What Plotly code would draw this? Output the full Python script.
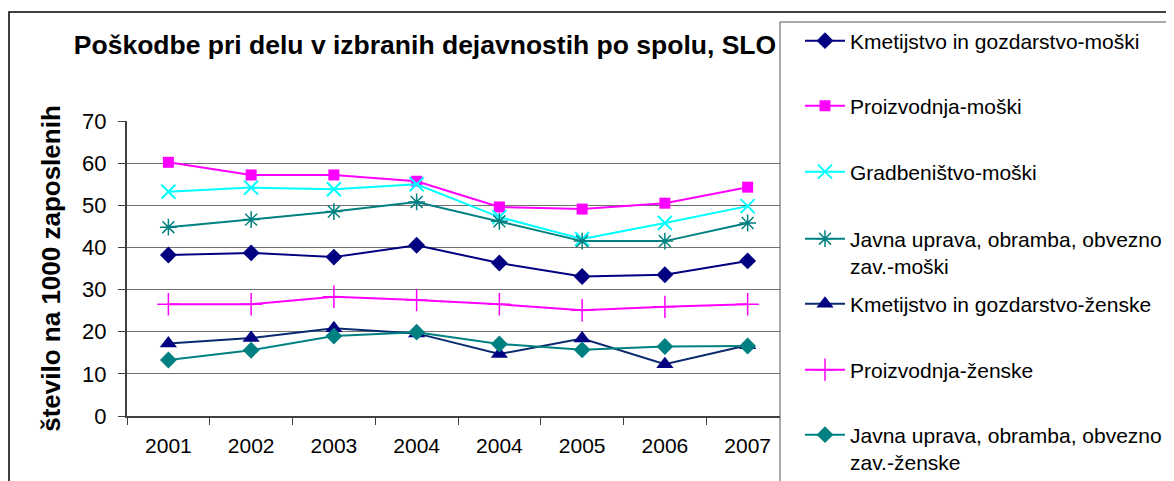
import plotly.graph_objects as go

years = ["2001", "2002", "2003", "2004", "2004", "2005", "2006", "2007"]

kmet_m = [38.2, 38.7, 37.7, 40.5, 36.3, 33.1, 33.5, 36.8]
proiz_m = [60.2, 57.2, 57.2, 55.7, 49.6, 49.1, 50.5, 54.3]
gradb_m = [53.2, 54.2, 53.8, 55.0, 47.2, 42.0, 45.8, 49.8]
javna_m = [44.8, 46.6, 48.5, 50.8, 46.2, 41.5, 41.5, 45.8]
kmet_z = [17.2, 18.5, 20.8, 19.6, 14.7, 18.4, 12.3, 16.8]
proiz_z = [26.5, 26.5, 28.3, 27.5, 26.5, 25.1, 25.9, 26.5]
javna_z = [13.3, 15.6, 19.0, 19.9, 17.1, 15.7, 16.5, 16.6]

names = [
    "Kmetijstvo in gozdarstvo-moški",
    "Proizvodnja-moški",
    "Gradbeništvo-moški",
    "Javna uprava, obramba, obvezno<br>zav.-moški",
    "Kmetijstvo in gozdarstvo-ženske",
    "Proizvodnja-ženske",
    "Javna uprava, obramba, obvezno<br>zav.-ženske",
]

# page body has an 8px margin; positions below are given in screen px
OFF = 8
W, H = 1174, 481
L = 127 - OFF
T = 121 - OFF
BOTTOM = 416 - OFF
RIGHT = 789 - OFF
B = H - BOTTOM
R = W - RIGHT
PW = W - L - R
PH = H - T - B


def px_x(xs):
    return (xs - OFF - L) / PW


def px_y(ys):
    return (BOTTOM - (ys - OFF)) / PH


x = list(range(len(years)))

styles = [
    dict(data=kmet_m, line="#000080", marker=dict(symbol="diamond", size=13, color="#000080")),
    dict(data=proiz_m, line="#FF00FF", marker=dict(symbol="square", size=11, color="#FF00FF")),
    dict(data=gradb_m, line="#00FFFF", marker=dict(symbol="x-thin-open", size=14, color="#00FFFF", line=dict(width=2, color="#00FFFF"))),
    dict(data=javna_m, line="#008080", marker=dict(symbol="asterisk-open", size=14, color="#008080", line=dict(width=1.5, color="#008080"))),
    dict(data=kmet_z, line="#0A2A6E", marker=dict(symbol="triangle-up", size=15, color="#000080")),
    dict(data=proiz_z, line="#FF00FF", marker=dict(symbol="cross-thin-open", size=16, color="#FF00FF", line=dict(width=1.5, color="#FF00FF"))),
    dict(data=javna_z, line="#008080", marker=dict(symbol="diamond", size=13, color="#008080")),
]

legend_y = [41, 106, 172, 252.5, 304, 370, 448.5]

fig = go.Figure()
for i, (nm, st) in enumerate(zip(names, styles)):
    lg = "legend" if i == 0 else f"legend{i+1}"
    fig.add_trace(go.Scatter(
        x=x, y=st["data"], name=nm, mode="lines+markers",
        line=dict(color=st["line"], width=2),
        marker=st["marker"],
        legend=lg,
    ))

layout_legends = {}
for i, ly in enumerate(legend_y):
    key = "legend" if i == 0 else f"legend{i+1}"
    layout_legends[key] = dict(
        x=px_x(800), xanchor="left",
        y=px_y(ly), yanchor="middle",
        bgcolor="rgba(0,0,0,0)", borderwidth=0,
        font=dict(family="Liberation Sans, Arial", size=21, color="black"),
        valign="top", itemwidth=40,
    )

fig.update_layout(
    width=W, height=H,
    margin=dict(l=L, r=R, t=T, b=B, autoexpand=False),
    paper_bgcolor="white", plot_bgcolor="white",
    title=dict(
        text="<b>Poškodbe pri delu v izbranih dejavnostih po spolu, SLO</b>",
        x=(425 - OFF) / W, xanchor="center", y=1 - (45 - OFF) / H, yanchor="middle",
        font=dict(family="Liberation Sans, Arial", size=26.5, color="black"),
    ),
    font=dict(family="Liberation Sans, Arial", size=21, color="black"),
    showlegend=True,
    **layout_legends,
)

fig.update_xaxes(
    range=[-0.5, 7.5],
    tickmode="array", tickvals=x, ticktext=years,
    ticks="", showgrid=False, zeroline=False,
    showline=True, linecolor="#404040", linewidth=2,
    tickfont=dict(family="Liberation Sans, Arial", size=21, color="black"),
    ticklabelstandoff=10,
    minor=dict(tickmode="array", tickvals=[i - 0.5 for i in range(9)], ticks="outside",
               ticklen=7, tickcolor="#404040", tickwidth=1, showgrid=False),
)
fig.update_yaxes(
    range=[0, 70], tickmode="array", tickvals=list(range(0, 71, 10)),
    ticks="outside", ticklen=7, tickcolor="#404040", tickwidth=1,
    showgrid=True, gridcolor="#707070", gridwidth=1, zeroline=False,
    showline=True, linecolor="#404040", linewidth=2,
    tickfont=dict(family="Liberation Sans, Arial", size=22, color="black"),
    ticklabelstandoff=7,
    title=dict(text="<b>število na 1000 zaposlenih</b>", standoff=14,
               font=dict(family="Liberation Sans, Arial", size=26, color="black")),
)

fig.add_shape(type="rect", xref="paper", yref="paper",
              x0=px_x(9), x1=px_x(1300), y0=px_y(12), y1=px_y(600),
              line=dict(color="black", width=1.5), fillcolor="rgba(0,0,0,0)", layer="above")
fig.add_shape(type="rect", xref="paper", yref="paper",
              x0=px_x(780), x1=px_x(1300), y0=px_y(22), y1=px_y(600),
              line=dict(color="#555555", width=1), fillcolor="white", layer="above")

fig.write_html("out.html")
